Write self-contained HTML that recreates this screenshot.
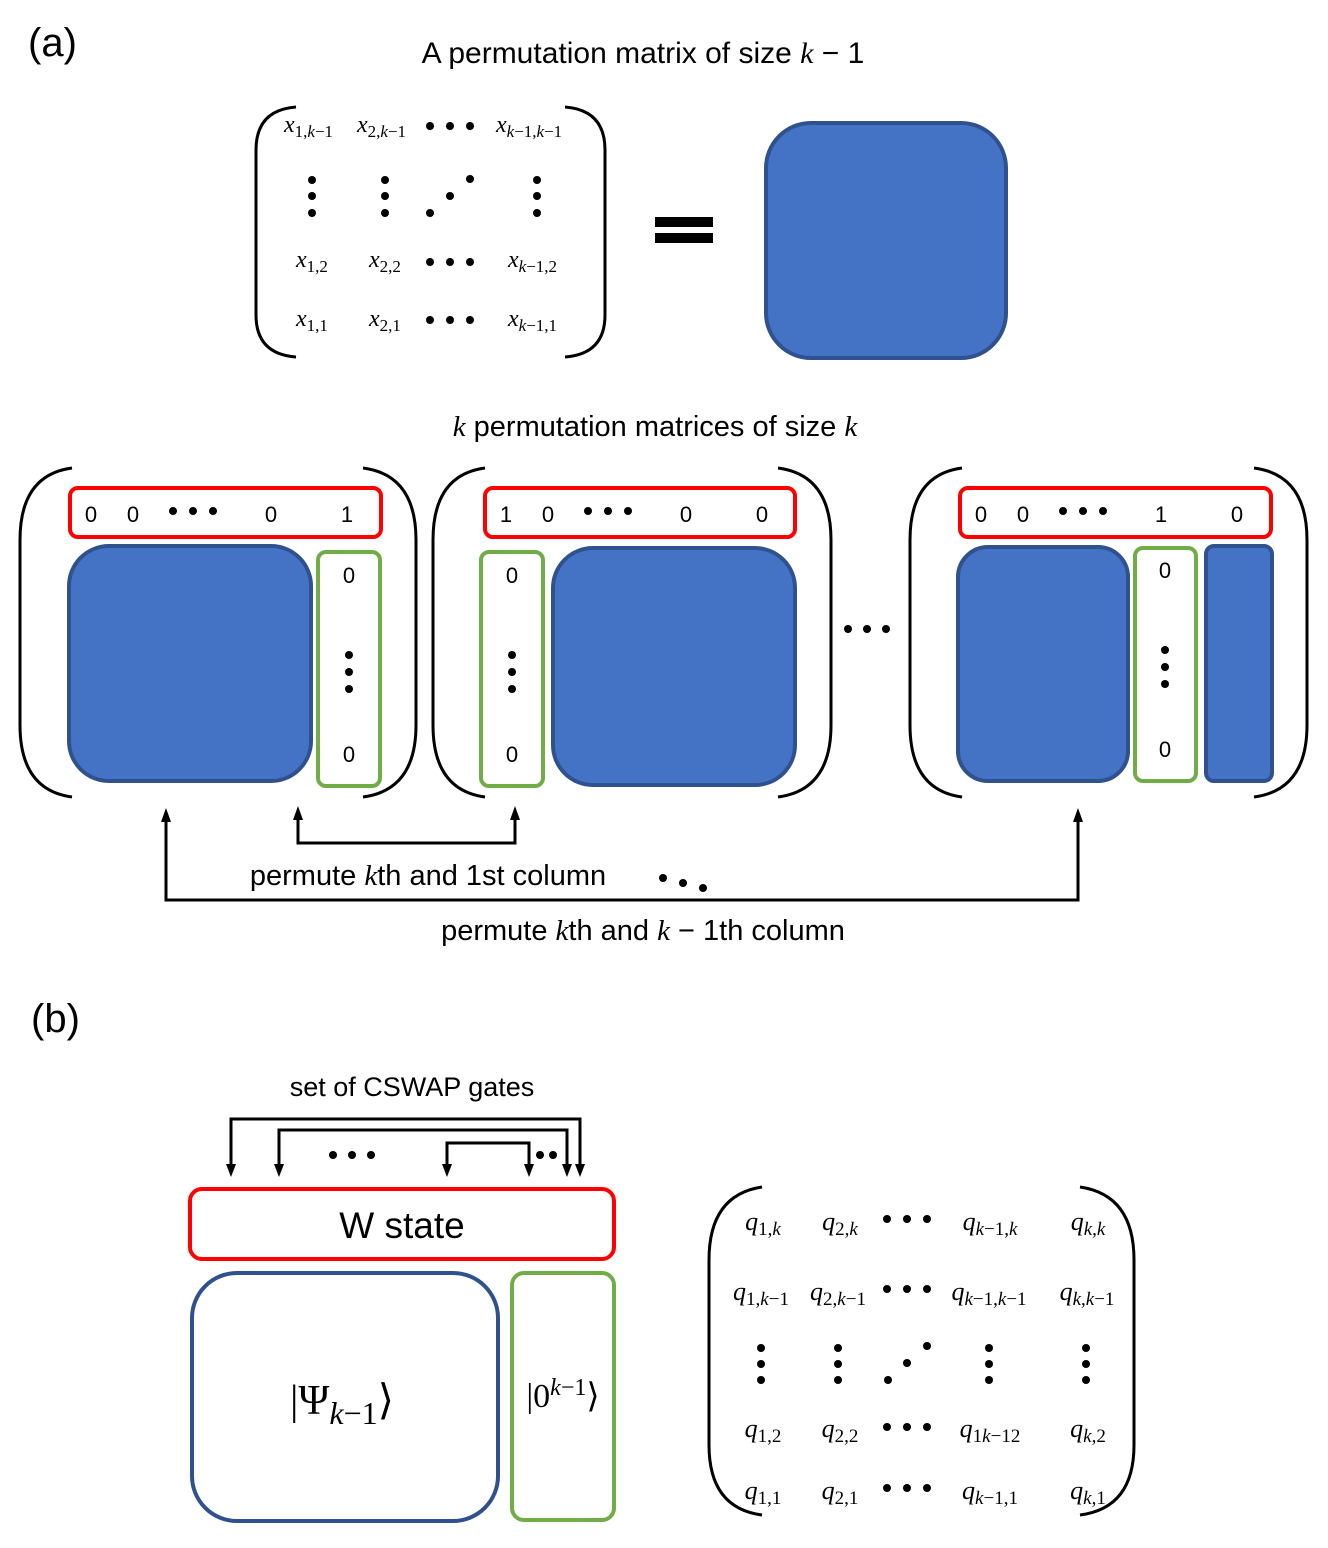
<!DOCTYPE html>
<html><head><meta charset="utf-8"><style>
html,body{margin:0;padding:0;background:#fff;}
svg{display:block;}
.t{font-family:"Liberation Sans",sans-serif;fill:#000;}
.m{font-family:"Liberation Serif",serif;font-style:italic;fill:#000;}
.s{font-family:"Liberation Serif",serif;font-style:normal;}
</style></head><body>
<svg width="1328" height="1548" viewBox="0 0 1328 1548" xmlns="http://www.w3.org/2000/svg">
<text class="t" x="28" y="56" font-size="40">(a)</text>
<text class="t" x="643" y="63" font-size="30" text-anchor="middle">A permutation matrix of size <tspan class="m">k</tspan> − 1</text>

<g fill="none" stroke="#000" stroke-width="3">
<path d="M296,107 Q256,110 256,150 L256,315 Q256,354 296,357"/>
<path d="M565,107 Q605,110 605,150 L605,315 Q605,354 565,357"/>
</g>
<g class="m" font-size="24">
<text x="284" y="132">x<tspan class="s" font-size="17" dy="5">1,</tspan><tspan font-size="17">k</tspan><tspan class="s" font-size="17">−1</tspan></text>
<text x="357" y="132">x<tspan class="s" font-size="17" dy="5">2,</tspan><tspan font-size="17">k</tspan><tspan class="s" font-size="17">−1</tspan></text>
<text x="496" y="132">x<tspan font-size="17" dy="5">k</tspan><tspan class="s" font-size="17">−1,</tspan><tspan font-size="17">k</tspan><tspan class="s" font-size="17">−1</tspan></text>
<text x="296" y="267">x<tspan class="s" font-size="17" dy="5">1,2</tspan></text>
<text x="369" y="267">x<tspan class="s" font-size="17" dy="5">2,2</tspan></text>
<text x="508" y="267">x<tspan font-size="17" dy="5">k</tspan><tspan class="s" font-size="17">−1,2</tspan></text>
<text x="296" y="326">x<tspan class="s" font-size="17" dy="5">1,1</tspan></text>
<text x="369" y="326">x<tspan class="s" font-size="17" dy="5">2,1</tspan></text>
<text x="508" y="326">x<tspan font-size="17" dy="5">k</tspan><tspan class="s" font-size="17">−1,1</tspan></text>
</g>
<g fill="#000">
<circle cx="430" cy="126" r="4"/><circle cx="450" cy="126" r="4"/><circle cx="470" cy="126" r="4"/>
<circle cx="312" cy="180" r="4"/><circle cx="312" cy="196" r="4"/><circle cx="312" cy="213" r="4"/>
<circle cx="385" cy="180" r="4"/><circle cx="385" cy="196" r="4"/><circle cx="385" cy="213" r="4"/>
<circle cx="430" cy="213" r="4"/><circle cx="450" cy="196" r="4"/><circle cx="470" cy="179" r="4"/>
<circle cx="537" cy="180" r="4"/><circle cx="537" cy="196" r="4"/><circle cx="537" cy="213" r="4"/>
<circle cx="430" cy="262" r="4"/><circle cx="450" cy="262" r="4"/><circle cx="470" cy="262" r="4"/>
<circle cx="430" cy="320" r="4"/><circle cx="450" cy="320" r="4"/><circle cx="470" cy="320" r="4"/>
<rect x="655" y="217" width="58" height="10"/><rect x="655" y="233" width="58" height="10"/>
</g>
<rect x="766" y="123" width="240" height="235" rx="45" fill="#4472C4" stroke="#2F528F" stroke-width="4"/>

<text class="t" x="655" y="436" font-size="29" text-anchor="middle"><tspan class="m">k</tspan> permutation matrices of size <tspan class="m">k</tspan></text>

<g fill="none" stroke="#000" stroke-width="3">
<path d="M72,468 Q20,475 20,540 L20,725 Q20,790 72,797"/>
<path d="M363,468 Q416,475 416,540 L416,725 Q416,790 363,797"/>
<path d="M485,468 Q433,475 433,540 L433,725 Q433,790 485,797"/>
<path d="M778,468 Q831,475 831,540 L831,725 Q831,790 778,797"/>
<path d="M962,468 Q910,475 910,540 L910,725 Q910,790 962,797"/>
<path d="M1254,468 Q1307,475 1307,540 L1307,725 Q1307,790 1254,797"/>
</g>
<g fill="none" stroke="#FF0000" stroke-width="4">
<rect x="70" y="488" width="311" height="49" rx="8"/>
<rect x="485" y="488" width="310" height="49" rx="8"/>
<rect x="960" y="488" width="311" height="49" rx="8"/>
<rect x="190" y="1189" width="424" height="70" rx="12"/>
</g>
<g class="t" font-size="22" text-anchor="middle">
<text x="91" y="522">0</text><text x="133" y="522">0</text><text x="271" y="522">0</text><text x="347" y="522">1</text>
<text x="506" y="522">1</text><text x="548" y="522">0</text><text x="686" y="522">0</text><text x="762" y="522">0</text>
<text x="981" y="522">0</text><text x="1023" y="522">0</text><text x="1161" y="522">1</text><text x="1237" y="522">0</text>
<text x="349" y="583">0</text><text x="349" y="762">0</text>
<text x="512" y="583">0</text><text x="512" y="762">0</text>
<text x="1165" y="578">0</text><text x="1165" y="757">0</text>
</g>
<g fill="#000">
<circle cx="173" cy="511" r="4"/><circle cx="193" cy="511" r="4"/><circle cx="213" cy="511" r="4"/>
<circle cx="588" cy="511" r="4"/><circle cx="608" cy="511" r="4"/><circle cx="628" cy="511" r="4"/>
<circle cx="1063" cy="511" r="4"/><circle cx="1083" cy="511" r="4"/><circle cx="1103" cy="511" r="4"/>
<circle cx="349" cy="655" r="4"/><circle cx="349" cy="672" r="4"/><circle cx="349" cy="689" r="4"/>
<circle cx="512" cy="655" r="4"/><circle cx="512" cy="672" r="4"/><circle cx="512" cy="689" r="4"/>
<circle cx="1165" cy="650" r="4"/><circle cx="1165" cy="667" r="4"/><circle cx="1165" cy="684" r="4"/>
<circle cx="848" cy="629" r="4"/><circle cx="867" cy="629" r="4"/><circle cx="886" cy="629" r="4"/>
<circle cx="663" cy="878" r="4"/><circle cx="683" cy="883" r="4"/><circle cx="703" cy="888" r="4"/>
</g>
<g fill="#4472C4" stroke="#2F528F" stroke-width="4">
<rect x="69" y="546" width="242" height="235" rx="40"/>
<rect x="553" y="548" width="242" height="237" rx="40"/>
<rect x="958" y="547" width="170" height="234" rx="30"/>
<rect x="1206" y="546" width="66" height="235" rx="8"/>
</g>
<g fill="none" stroke="#70AD47" stroke-width="4">
<rect x="318" y="552" width="62" height="234" rx="8"/>
<rect x="481" y="552" width="62" height="234" rx="8"/>
<rect x="1135" y="548" width="61" height="233" rx="8"/>
<rect x="512" y="1273" width="102" height="247" rx="12"/>
</g>
<g fill="none" stroke="#000" stroke-width="3">
<polyline points="298,818 298,843 515,843 515,818"/>
<polyline points="166,820 166,900 1078,900 1078,820"/>
</g>
<g fill="#000">
<polygon points="298,806 293,820 303,820"/><polygon points="515,806 510,820 520,820"/>
<polygon points="166,808 161,822 171,822"/><polygon points="1078,808 1073,822 1083,822"/>
</g>
<text class="t" x="428" y="885" font-size="29" text-anchor="middle">permute <tspan class="m">k</tspan>th and 1st column</text>
<text class="t" x="643" y="940" font-size="29" text-anchor="middle">permute <tspan class="m">k</tspan>th and <tspan class="m">k</tspan> − 1th column</text>

<text class="t" x="31" y="1032" font-size="40">(b)</text>
<text class="t" x="412" y="1096" font-size="27" text-anchor="middle">set of CSWAP gates</text>
<g fill="none" stroke="#000" stroke-width="3">
<polyline points="231,1166 231,1119 580,1119 580,1166"/>
<polyline points="279,1166 279,1130 567,1130 567,1166"/>
<polyline points="447,1166 447,1143 529,1143 529,1166"/>
</g>
<g fill="#000">
<polygon points="231,1177 226,1164 236,1164"/><polygon points="279,1177 274,1164 284,1164"/>
<polygon points="447,1177 442,1164 452,1164"/><polygon points="529,1177 524,1164 534,1164"/>
<polygon points="567,1177 562,1164 572,1164"/><polygon points="580,1177 575,1164 585,1164"/>
<circle cx="333" cy="1155" r="4"/><circle cx="352" cy="1155" r="4"/><circle cx="371" cy="1155" r="4"/>
<circle cx="540" cy="1155" r="4"/><circle cx="553" cy="1155" r="4"/>
</g>
<text class="t" x="402" y="1238" font-size="37" text-anchor="middle">W state</text>
<rect x="192" y="1273" width="306" height="248" rx="45" fill="#fff" stroke="#2F528F" stroke-width="4"/>
<text class="s" x="342" y="1414" font-size="42" text-anchor="middle">|Ψ<tspan class="m" font-size="32" dy="10">k</tspan><tspan font-size="32">−1</tspan><tspan dy="-10">⟩</tspan></text>
<text class="s" x="563" y="1407" font-size="34" text-anchor="middle">|0<tspan class="m" font-size="24" dy="-12">k</tspan><tspan font-size="24">−1</tspan><tspan dy="12">⟩</tspan></text>

<g fill="none" stroke="#000" stroke-width="3">
<path d="M762,1187 Q709,1195 709,1260 L709,1445 Q709,1508 762,1515"/>
<path d="M1080,1187 Q1134,1195 1134,1260 L1134,1445 Q1134,1508 1080,1515"/>
</g>
<g class="m" font-size="26" text-anchor="middle">
<text x="763" y="1230">q<tspan class="s" font-size="19" dy="5">1,</tspan><tspan font-size="19">k</tspan></text>
<text x="840" y="1230">q<tspan class="s" font-size="19" dy="5">2,</tspan><tspan font-size="19">k</tspan></text>
<text x="990" y="1230">q<tspan font-size="19" dy="5">k</tspan><tspan class="s" font-size="19">−1,</tspan><tspan font-size="19">k</tspan></text>
<text x="1088" y="1230">q<tspan font-size="19" dy="5">k</tspan><tspan class="s" font-size="19">,</tspan><tspan font-size="19">k</tspan></text>
<text x="761" y="1300">q<tspan class="s" font-size="19" dy="5">1,</tspan><tspan font-size="19">k</tspan><tspan class="s" font-size="19">−1</tspan></text>
<text x="838" y="1300">q<tspan class="s" font-size="19" dy="5">2,</tspan><tspan font-size="19">k</tspan><tspan class="s" font-size="19">−1</tspan></text>
<text x="989" y="1300">q<tspan font-size="19" dy="5">k</tspan><tspan class="s" font-size="19">−1,</tspan><tspan font-size="19">k</tspan><tspan class="s" font-size="19">−1</tspan></text>
<text x="1087" y="1300">q<tspan font-size="19" dy="5">k</tspan><tspan class="s" font-size="19">,</tspan><tspan font-size="19">k</tspan><tspan class="s" font-size="19">−1</tspan></text>
<text x="763" y="1437">q<tspan class="s" font-size="19" dy="5">1,2</tspan></text>
<text x="840" y="1437">q<tspan class="s" font-size="19" dy="5">2,2</tspan></text>
<text x="990" y="1437">q<tspan class="s" font-size="19" dy="5">1</tspan><tspan font-size="19">k</tspan><tspan class="s" font-size="19">−12</tspan></text>
<text x="1088" y="1437">q<tspan font-size="19" dy="5">k</tspan><tspan class="s" font-size="19">,2</tspan></text>
<text x="763" y="1499">q<tspan class="s" font-size="19" dy="5">1,1</tspan></text>
<text x="840" y="1499">q<tspan class="s" font-size="19" dy="5">2,1</tspan></text>
<text x="990" y="1499">q<tspan font-size="19" dy="5">k</tspan><tspan class="s" font-size="19">−1,1</tspan></text>
<text x="1088" y="1499">q<tspan font-size="19" dy="5">k</tspan><tspan class="s" font-size="19">,1</tspan></text>
</g>
<g fill="#000">
<circle cx="887" cy="1219" r="4"/><circle cx="907" cy="1219" r="4"/><circle cx="927" cy="1219" r="4"/>
<circle cx="887" cy="1289" r="4"/><circle cx="907" cy="1289" r="4"/><circle cx="927" cy="1289" r="4"/>
<circle cx="887" cy="1427" r="4"/><circle cx="907" cy="1427" r="4"/><circle cx="927" cy="1427" r="4"/>
<circle cx="887" cy="1488" r="4"/><circle cx="907" cy="1488" r="4"/><circle cx="927" cy="1488" r="4"/>
<circle cx="761" cy="1348" r="4"/><circle cx="761" cy="1364" r="4"/><circle cx="761" cy="1380" r="4"/>
<circle cx="838" cy="1348" r="4"/><circle cx="838" cy="1364" r="4"/><circle cx="838" cy="1380" r="4"/>
<circle cx="888" cy="1380" r="4"/><circle cx="907" cy="1363" r="4"/><circle cx="927" cy="1346" r="4"/>
<circle cx="989" cy="1348" r="4"/><circle cx="989" cy="1364" r="4"/><circle cx="989" cy="1380" r="4"/>
<circle cx="1086" cy="1348" r="4"/><circle cx="1086" cy="1364" r="4"/><circle cx="1086" cy="1380" r="4"/>
</g>
</svg>
</body></html>
